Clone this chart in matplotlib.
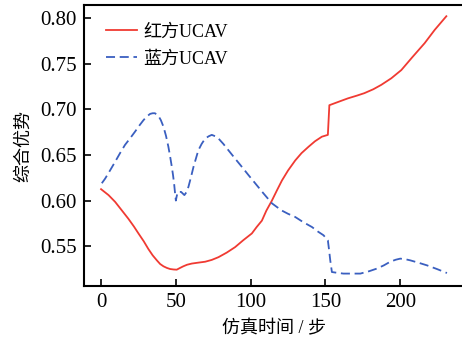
import matplotlib
matplotlib.use("Agg")
import matplotlib.pyplot as plt

plt.rcParams['font.family'] = ['Liberation Serif', 'Noto Sans CJK SC']
plt.rcParams['mathtext.fontset'] = 'stix'

red_x = [0, 5, 9.4, 14, 18.3, 22, 25, 28.5, 31.6, 34.5, 37.3, 39.5, 41.7, 44, 46.2,
         48.5, 50.6, 52.8, 55, 57.5, 60.7, 65, 69.6, 74, 78.5, 84, 89.6, 95, 100.8,
         104, 107.5, 110.5, 114.2, 117.5, 120.9, 125, 129.8, 134, 138.7, 143, 147.6,
         151.6, 152.6, 160, 165, 171, 176, 182, 187.3, 194, 200.7, 208, 216.3, 223, 230.8]
red_y = [0.6125, 0.606, 0.5986, 0.589, 0.580, 0.5715, 0.564, 0.5555, 0.547, 0.540,
         0.5345, 0.5305, 0.528, 0.5262, 0.525, 0.5245, 0.5243, 0.5262, 0.528, 0.5297,
         0.531, 0.532, 0.533, 0.535, 0.538, 0.543, 0.549, 0.5565, 0.564, 0.571, 0.578,
         0.589, 0.600, 0.611, 0.622, 0.633, 0.644, 0.652, 0.659, 0.665, 0.670, 0.672,
         0.7045, 0.709, 0.712, 0.715, 0.7177, 0.722, 0.7268, 0.734, 0.743, 0.757,
         0.7725, 0.787, 0.802]

blue_x = [0.5, 2.7, 6, 9.4, 12.7, 16, 19.3, 22.7, 25.5, 28.3, 30.5, 32.8, 34.5, 36,
          38.3, 40, 41.7, 43.4, 45, 46.2, 47.3, 48.1, 48.8, 49.4, 50, 50.6, 51.3, 53.5,
          55.7, 57, 58.4, 60, 61.8, 63.4, 65, 67.2, 69.6, 72, 74, 76.3, 78.5, 81.8,
          85.2, 89.6, 94.1, 98.5, 103, 108.5, 114.2, 117.5, 120.9, 125, 129.8, 135,
          141, 145, 148.7, 151.6, 152.4, 153.2, 154.3, 158, 162, 168, 173.3, 179,
          184.4, 189, 193.3, 197, 200, 203.5, 206.7, 212, 217.9, 224.5, 231.2]
blue_y = [0.619, 0.624, 0.633, 0.6425, 0.652, 0.661, 0.668, 0.6755, 0.682, 0.688,
          0.692, 0.695, 0.6957, 0.6957, 0.693, 0.688, 0.681, 0.671, 0.659, 0.648,
          0.637, 0.628, 0.619, 0.609, 0.600, 0.605, 0.6095, 0.6095, 0.606, 0.609,
          0.615, 0.625, 0.637, 0.646, 0.655, 0.662, 0.668, 0.6705, 0.672, 0.6705,
          0.668, 0.662, 0.655, 0.646, 0.637, 0.628, 0.619, 0.608, 0.597, 0.593, 0.589,
          0.5855, 0.582, 0.5765, 0.571, 0.566, 0.562, 0.5565, 0.546, 0.5345, 0.5217,
          0.5208, 0.520, 0.520, 0.520, 0.5225, 0.5255, 0.529, 0.533, 0.5352, 0.5364,
          0.5357, 0.5345, 0.532, 0.529, 0.525, 0.5206]

labels = ['红方UCAV', '蓝方UCAV']
xticks = [0, 50, 100, 150, 200]
yticks = [0.55, 0.60, 0.65, 0.70, 0.75, 0.80]

W, H = 462, 339
fig = plt.figure(figsize=(W / 100, H / 100), dpi=100)
ax = fig.add_axes([84 / W, (H - 286) / H, (464 - 84) / W, (286 - 5) / H])

ax.plot(red_x, red_y, color='#f03a32', lw=1.3, label=labels[0])
ax.plot(blue_x, blue_y, color='#3a5fc0', lw=1.3, linestyle=(0, (5, 2.6)), label=labels[1])

ax.set_xlim(-11.4, 242.6)
ax.set_ylim(0.5064, 0.8143)
ax.set_xticks(xticks)
ax.set_yticks(yticks)
ax.set_yticklabels([f'{v:.2f}' for v in yticks])
ax.tick_params(direction='in', length=5, width=1.2, labelsize=15, pad=5)
for s in ax.spines.values():
    s.set_linewidth(1.5)

ax.set_xlabel('仿真时间 / 步', fontsize=13, labelpad=6)
ax.set_ylabel('综合优势', fontsize=13, labelpad=6)

leg = ax.legend(loc='upper left', bbox_to_anchor=(0.024, 0.979), frameon=False,
                fontsize=13, handlelength=1.75, handletextpad=0.33,
                borderaxespad=0.3, labelspacing=0.55)

fig.savefig('out.png', dpi=100)
